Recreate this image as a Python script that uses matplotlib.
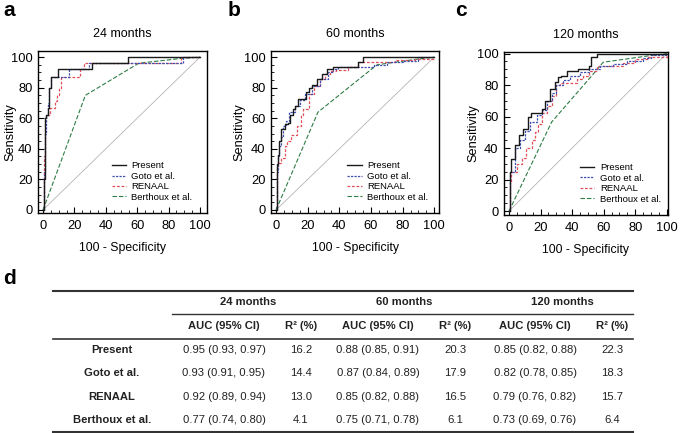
import matplotlib
matplotlib.use('Agg')
import matplotlib.pyplot as plt
from matplotlib.ticker import MultipleLocator

plt.rcParams['font.family'] = ['Liberation Sans', 'DejaVu Sans']

# ---------------- data ----------------
panel_titles = ['24 months', '60 months', '120 months']
panel_letters = ['a', 'b', 'c']
model_names = ['Present', 'Goto et al.', 'RENAAL', 'Berthoux et al.']

# 24 months (step curves: at x the curve rises to y)
a_present_x = [0, 0.5, 1, 1.5, 2, 3, 3.5, 4, 5, 9.5, 31.5, 54, 100]
a_present_y = [0, 20, 45, 60, 62, 67, 75, 80, 87, 92, 96, 100, 100]
a_goto_x = [0, 0.8, 1.2, 2, 3, 4, 5, 16.5, 29, 89, 100]
a_goto_y = [0, 25, 50, 62, 70, 80, 87, 92, 96, 100, 100]
a_renaal_x = [0, 0.8, 1.5, 2, 4.2, 7.5, 9, 10, 11.2, 23.3, 26.4, 88, 100]
a_renaal_y = [0, 35, 58, 62, 67, 71, 75, 80, 87, 92, 96, 100, 100]
a_berthoux_x = [0, 27, 61, 87, 100]
a_berthoux_y = [0, 75, 96, 99, 100]

# 60 months
b_present_x = [0, 0.5, 1, 2, 3.4, 5.5, 7.6, 9, 10.8, 12, 14, 19, 21, 23, 26, 29, 32, 36, 52, 55, 100]
b_present_y = [0, 30, 36, 45, 53, 56, 57, 62, 66, 68, 72.5, 77, 80, 82, 86, 89, 92, 93.5, 97, 100, 100]
b_goto_x = [0, 0.5, 1, 2, 3.4, 4.4, 6.5, 8, 12, 15, 18, 23, 28, 33, 36, 39, 62, 70, 80, 90, 100]
b_goto_y = [0, 25, 35, 42, 48, 55, 58, 64, 68, 72, 76, 81, 86, 90, 92, 93.5, 95, 96.5, 97.5, 100, 100]
b_renaal_x = [0, 0.8, 1.5, 3, 5.5, 7, 9.7, 13, 16, 17, 21, 24, 28, 31, 34, 38, 45.5, 52, 75, 88, 100]
b_renaal_y = [0, 28, 31, 34, 42, 45, 49, 55, 62, 66, 76, 81, 86, 89, 91, 91.5, 93.5, 97, 98, 99, 100]
b_berthoux_x = [0, 26.5, 59, 64, 88, 100]
b_berthoux_y = [0, 64, 91, 95, 98.5, 100]

# 120 months
c_present_x = [0, 0.5, 1.5, 3.8, 6, 9, 12, 14, 20.7, 23, 26, 29, 31, 33, 36.5, 44, 51, 52, 55.5, 100]
c_present_y = [0, 25, 33, 42, 48, 52, 60, 62, 65, 70, 77.6, 82, 85, 86, 89, 90, 92, 97.7, 100, 100]
c_goto_x = [0, 0.5, 3.8, 7, 10, 13, 17.5, 20.7, 24, 27, 30, 34, 38.6, 45, 51, 57.6, 66, 75, 85, 90, 100]
c_goto_y = [0, 25, 40, 45, 51, 56.5, 61, 64, 70, 74.7, 80, 83, 86, 88, 90, 92, 93.5, 95.5, 97.5, 99, 100]
c_renaal_x = [0, 0.5, 1.5, 5, 8, 11, 14.3, 16.5, 18.6, 20.7, 23.8, 27, 30, 32, 42.8, 47, 51, 55.5, 72, 80, 88, 100]
c_renaal_y = [0, 18.6, 25, 30, 34, 40, 45, 50, 55.5, 62, 67, 73, 80, 81, 84, 86, 89, 92, 94, 96.5, 98, 100]
c_berthoux_x = [0, 27, 53.4, 59.7, 88, 100]
c_berthoux_y = [0, 56.5, 87, 94.5, 98.5, 100]

# table
table_periods = ['24 months', '60 months', '120 months']
table_rows = ['Present', 'Goto et al.', 'RENAAL', 'Berthoux et al.']
auc_24 = ['0.95 (0.93, 0.97)', '0.93 (0.91, 0.95)', '0.92 (0.89, 0.94)', '0.77 (0.74, 0.80)']
r2_24 = ['16.2', '14.4', '13.0', '4.1']
auc_60 = ['0.88 (0.85, 0.91)', '0.87 (0.84, 0.89)', '0.85 (0.82, 0.88)', '0.75 (0.71, 0.78)']
r2_60 = ['20.3', '17.9', '16.5', '6.1']
auc_120 = ['0.85 (0.82, 0.88)', '0.82 (0.78, 0.85)', '0.79 (0.76, 0.82)', '0.73 (0.69, 0.76)']
r2_120 = ['22.3', '18.3', '15.7', '6.4']

# ---------------- figure ----------------
W, H = 683, 433
fig = plt.figure(figsize=(W / 100, H / 100), dpi=100)


def px_rect(l, t, r, b):
    return [l / W, 1 - b / H, (r - l) / W, (b - t) / H]


panels = [
    dict(rect=(38, 51, 207, 213), xlim=(-3.2, 104.5), ylim=(-2, 104), leg=0.435,
         ylab_x=16, letter_x=3,
         curves=[(a_present_x, a_present_y), (a_goto_x, a_goto_y),
                 (a_renaal_x, a_renaal_y), (a_berthoux_x, a_berthoux_y)]),
    dict(rect=(271, 51, 439, 213), xlim=(-3.2, 103), ylim=(-2, 104), leg=0.455,
         ylab_x=245, letter_x=228,
         curves=[(b_present_x, b_present_y), (b_goto_x, b_goto_y),
                 (b_renaal_x, b_renaal_y), (b_berthoux_x, b_berthoux_y)]),
    dict(rect=(504, 52, 668, 215), xlim=(-3.2, 100.8), ylim=(-2.5, 101), leg=0.465,
         ylab_x=479, letter_x=455,
         curves=[(c_present_x, c_present_y), (c_goto_x, c_goto_y),
                 (c_renaal_x, c_renaal_y), (c_berthoux_x, c_berthoux_y)]),
]

colors = ['#1a1a1a', '#3d4fb0', '#e0505a', '#2f7d45']
styles = ['-', (0, (1.8, 1.0)), (0, (2.2, 1.4)), (0, (4, 1.8))]
widths = [1.0, 0.9, 0.9, 0.8]
steps = [True, True, True, False]

for i, p in enumerate(panels):
    l, t, r, b = p['rect']
    ax = fig.add_axes(px_rect(l, t, r, b))
    ax.plot([0, 100], [0, 100], color='#b5b5b5', lw=0.6, zorder=1)
    for k, (xs, ys) in enumerate(p['curves']):
        kw = dict(color=colors[k], ls=styles[k], lw=widths[k], label=model_names[k], zorder=5 - k)
        if steps[k]:
            ax.plot(xs, ys, drawstyle='steps-post', **kw)
        else:
            ax.plot(xs, ys, **kw)
    ax.set_xlim(*p['xlim'])
    ax.set_ylim(*p['ylim'])
    ax.xaxis.set_major_locator(MultipleLocator(20))
    ax.yaxis.set_major_locator(MultipleLocator(20))
    ax.xaxis.set_minor_locator(MultipleLocator(5))
    ax.yaxis.set_minor_locator(MultipleLocator(5))
    ax.tick_params(which='major', direction='in', length=4, width=0.8, labelsize=9.3)
    ax.tick_params(axis='x', which='major', pad=5)
    ax.tick_params(axis='y', which='major', pad=4)
    ax.tick_params(which='minor', direction='in', length=2, width=0.6)
    for s in ax.spines.values():
        s.set_linewidth(1.0)
    ax.set_title(panel_titles[i], fontsize=9, pad=10)
    ax.set_xlabel('100 - Specificity', fontsize=8.8, labelpad=7)
    ax.set_ylabel('Sensitivity', fontsize=9.2)
    ax.yaxis.set_label_coords((p['ylab_x'] - l) / (r - l), 0.5)
    ax.legend(loc='lower left', bbox_to_anchor=(p['leg'], 0.07), frameon=False,
              fontsize=6.8, handlelength=1.5, handletextpad=0.6, labelspacing=0.15,
              borderpad=0, borderaxespad=0)
    fig.text(p['letter_x'] / W, 1 - 11 / H, panel_letters[i], fontsize=15, fontweight='bold',
             ha='left', va='center')

fig.text(3 / W, 1 - 279 / H, 'd', fontsize=15, fontweight='bold', ha='left', va='center')

# ---------------- table ----------------
tab = fig.add_axes([0, 0, 1, 1])
tab.set_xlim(0, W)
tab.set_ylim(H, 0)
tab.axis('off')

L, R = 53, 633
rule_c = '#333333'
tab.plot([L, R], [291, 291], color=rule_c, lw=1.5)
tab.plot([172, R], [314, 314], color=rule_c, lw=1.0)
tab.plot([L, R], [339, 339], color=rule_c, lw=1.2)
tab.plot([L, R], [431.5, 431.5], color=rule_c, lw=1.5)

fs = 8.1
tc = '#222222'
header_x = [248, 404, 562]
auc_x = [224, 378, 535]
r2_x = [301, 455, 612]
for j in range(3):
    tab.text(header_x[j], 302, table_periods[j], fontsize=fs, fontweight='bold', ha='center', va='center', color=tc)
    tab.text(auc_x[j], 326, 'AUC (95% CI)', fontsize=fs, fontweight='bold', ha='center', va='center', color=tc)
    tab.text(r2_x[j], 326, 'R² (%)', fontsize=fs, fontweight='bold', ha='center', va='center', color=tc)

row_y = [350, 373.5, 397, 420]
aucs = [auc_24, auc_60, auc_120]
r2s = [r2_24, r2_60, r2_120]
for r_i, name in enumerate(table_rows):
    tab.text(112, row_y[r_i], name, fontsize=fs, fontweight='bold', ha='center', va='center', color=tc)
    for j in range(3):
        tab.text(auc_x[j], row_y[r_i], aucs[j][r_i], fontsize=fs, ha='center', va='center', color=tc)
        tab.text(r2_x[j], row_y[r_i], r2s[j][r_i], fontsize=fs, ha='center', va='center', color=tc)

fig.savefig('out.png', dpi=100)
